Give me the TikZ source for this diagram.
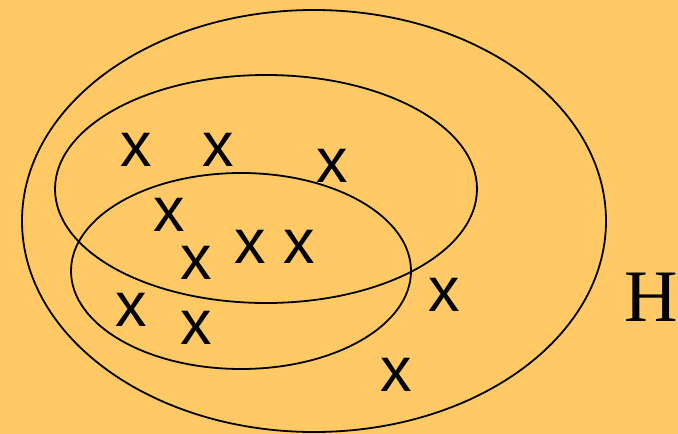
\documentclass[tikz,border=0pt]{standalone}
\usepackage{fontspec}
\newfontfamily\xfont{Liberation Sans}
\newfontfamily\hfont{Liberation Serif}
\definecolor{bg}{HTML}{FFCA66}
\begin{document}
\begin{tikzpicture}[x=1pt,y=-1pt,
  ring/.style={draw=black,line width=1.8pt},
  xm/.style={inner sep=0pt,font=\xfont\fontsize{63}{63}\selectfont},
  lab/.style={inner sep=0pt,font=\hfont\fontsize{74}{74}\selectfont}]
\fill[bg] (0,0) rectangle (678,434);
\useasboundingbox (0,0) rectangle (678,434);
\draw[ring] (314,221) ellipse [x radius=292,y radius=211];
\draw[ring] (266,189) ellipse [x radius=211,y radius=114];
\draw[ring] (241,271) ellipse [x radius=170,y radius=98];
\node[xm] (x1) at (136,150) {x};
\node[xm] (x2) at (218,150) {x};
\node[xm] (x3) at (332,166) {x};
\node[xm] (x4) at (169,215) {x};
\node[xm] (x5) at (196,263) {x};
\node[xm] (x6) at (250,247) {x};
\node[xm] (x7) at (299,247) {x};
\node[xm] (x8) at (131,310) {x};
\node[xm] (x9) at (196,328) {x};
\node[xm] (x10) at (444,295) {x};
\node[xm] (x11) at (396,375) {x};
\node[lab] (H) at (651,297) {H};
\end{tikzpicture}
\end{document}
